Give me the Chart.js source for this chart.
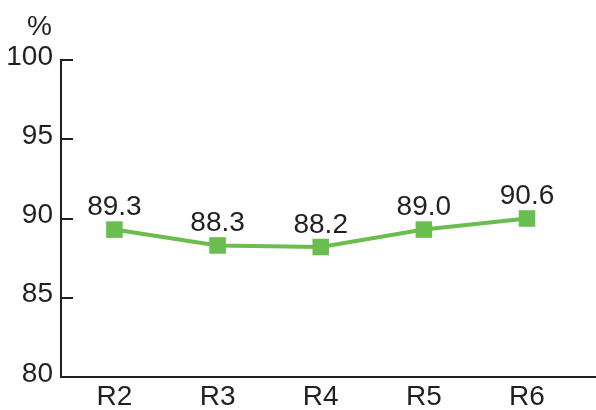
<!DOCTYPE html>
<html>
<head>
<meta charset="utf-8">
<script src="https://cdn.jsdelivr.net/npm/chart.js@4.4.0/dist/chart.umd.min.js"></script>
<style>
  html, body { margin: 0; padding: 0; background: #ffffff; }
  #wrap { width: 596px; height: 410px; position: relative; }
</style>
</head>
<body>
<div id="wrap"><canvas id="c" width="596" height="410"></canvas></div>
<script>
// ---- data ----
const categories = ["R2", "R3", "R4", "R5", "R6"];
// plotted positions
const values = [89.3, 88.3, 88.2, 89.3, 90.0];
// value labels as printed in the picture
const valueLabels = ["89.3", "88.3", "88.2", "89.0", "90.6"];
const yTicks = [80, 85, 90, 95, 100];
const unitLabel = "%";

const TEXT = "#231f20";
const GREEN = "#6abd4f";
const FONT = "'Liberation Sans', Arial, Helvetica, sans-serif";
const FS = 28;

const decorPlugin = {
  id: "decor",
  afterDraw(chart) {
    const ctx = chart.ctx;
    const y = chart.scales.y;
    const area = chart.chartArea;
    ctx.save();
    ctx.strokeStyle = TEXT;
    ctx.lineWidth = 2;
    yTicks.forEach(v => {
      if (v === y.min) return;
      const py = Math.round(y.getPixelForValue(v));
      ctx.beginPath();
      ctx.moveTo(area.left, py);
      ctx.lineTo(area.left + 12, py);
      ctx.stroke();
    });
    ctx.fillStyle = TEXT;
    ctx.font = FS + "px " + FONT;
    ctx.textAlign = "right";
    ctx.textBaseline = "alphabetic";
    ctx.fillText(unitLabel, 52, 35);
    const meta = chart.getDatasetMeta(0);
    ctx.textAlign = "center";
    meta.data.forEach((pt, i) => {
      ctx.fillText(valueLabels[i], pt.x, pt.y - 14.5);
    });
    ctx.restore();
  }
};

new Chart(document.getElementById("c"), {
  type: "line",
  data: {
    datasets: [{
      data: values.map((v, i) => ({ x: i, y: v })),
      borderColor: GREEN,
      backgroundColor: GREEN,
      borderWidth: 4,
      pointStyle: "rect",
      pointRadius: 11.7,
      pointHoverRadius: 11.7,
      pointBorderWidth: 0,
      pointBackgroundColor: GREEN,
      tension: 0,
      clip: false
    }]
  },
  options: {
    responsive: false,
    animation: false,
    events: [],
    layout: { autoPadding: false, padding: { top: 60, right: 0, left: 0, bottom: 0 } },
    plugins: {
      legend: { display: false },
      tooltip: { enabled: false },
      title: { display: false }
    },
    scales: {
      x: {
        type: "linear",
        min: -0.518,
        max: 4.669,
        grid: { display: false, drawTicks: false },
        border: { display: true, color: TEXT, width: 2 },
        ticks: {
          color: TEXT, font: { size: FS, family: FONT }, padding: 3, maxRotation: 0,
          callback: (v) => categories[v] !== undefined ? categories[v] : ""
        },
        afterBuildTicks(scale) { scale.ticks = categories.map((c, i) => ({ value: i })); },
        afterFit(scale) { scale.height = 33; scale.paddingRight = 0; scale.paddingLeft = 0; }
      },
      y: {
        min: 80,
        max: 100,
        grid: { display: false, drawTicks: false },
        border: { display: true, color: TEXT, width: 2 },
        ticks: {
          color: TEXT,
          font: { size: FS, family: FONT },
          padding: 8,
          labelOffset: -3
        },
        afterBuildTicks(scale) { scale.ticks = yTicks.map(v => ({ value: v })); },
        afterFit(scale) { scale.width = 61; }
      }
    }
  },
  plugins: [decorPlugin]
});
</script>
</body>
</html>
